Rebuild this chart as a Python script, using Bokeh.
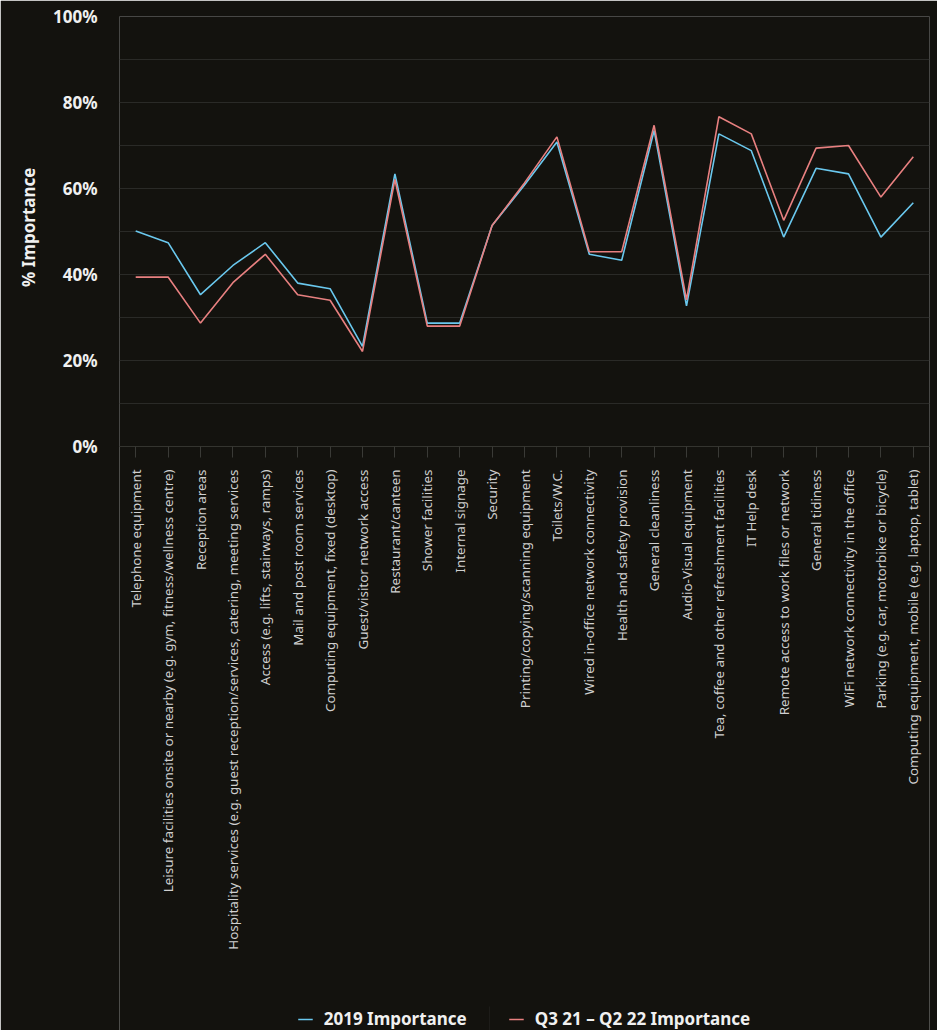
import math

from bokeh.plotting import figure
from bokeh.models import (FactorRange, Range1d, FixedTicker, PrintfTickFormatter,
                          Legend, LegendItem, BoxAnnotation, Title)
from bokeh.embed import file_html
from bokeh.resources import INLINE

# Workplace services and their rated importance (% of respondents)
categories = [
    "Telephone equipment",
    "Leisure facilities onsite or nearby (e.g. gym, fitness/wellness centre)",
    "Reception areas",
    "Hospitality services (e.g. guest reception/services, catering, meeting services",
    "Access (e.g. lifts, stairways, ramps)",
    "Mail and post room services",
    "Computing equipment, fixed (desktop)",
    "Guest/visitor network access",
    "Restaurant/canteen",
    "Shower facilities",
    "Internal signage",
    "Security",
    "Printing/copying/scanning equipment",
    "Toilets/W.C.",
    "Wired in-office network connectivity",
    "Health and safety provision",
    "General cleanliness",
    "Audio-Visual equipment",
    "Tea, coffee and other refreshment facilities",
    "IT Help desk",
    "Remote access to work files or network",
    "General tidiness",
    "WiFi network connectivity in the office",
    "Parking (e.g. car, motorbike or bicycle)",
    "Computing equipment, mobile (e.g. laptop, tablet)",
]

importance_2019 = [50.1, 47.4, 35.3, 42.1, 47.4, 38.0, 36.7, 23.3, 63.4, 28.7,
                   28.7, 51.4, 60.8, 70.8, 44.7, 43.3, 73.5, 32.7, 72.7, 68.8,
                   48.7, 64.7, 63.4, 48.7, 56.7]

importance_recent = [39.4, 39.4, 28.7, 38.1, 44.7, 35.3, 34.0, 22.1, 62.1, 28.0,
                     28.0, 51.4, 61.3, 72.0, 45.3, 45.3, 74.7, 34.1, 76.7, 72.7,
                     52.6, 69.4, 70.0, 58.0, 67.4]

series_labels = ["2019 Importance", "Q3 21 \u2013 Q2 22 Importance"]
y_title = "% Importance"
y_label_ticks = [0, 20, 40, 60, 80, 100]
y_grid_ticks = [0, 10, 20, 30, 40, 50, 60, 70, 80, 90, 100]

BG = "#13120e"
GRID = "#2a2a27"
BLUE = "#6ac8ee"
RED = "#e88080"
FONT = "Noto Sans"

# The frame runs to the bottom of the page; the 0-100 % band occupies its top
# 430 px and the space underneath holds the category names and the legend.
WIDTH, HEIGHT = 937, 1030
TOP, PLOT_H = 16, 430
y_floor = -100.0 * (HEIGHT - TOP - PLOT_H) / PLOT_H

p = figure(
    x_range=FactorRange(*categories), y_range=Range1d(y_floor, 100),
    width=WIDTH, height=HEIGHT,
    output_backend="svg", toolbar_location=None,
    min_border_left=119, min_border_right=8, min_border_top=TOP, min_border_bottom=0,
    background_fill_color=BG, border_fill_color=BG,
    outline_line_color=None,
)

blue = p.line(x=categories, y=importance_2019, line_color=BLUE, line_width=1.6)
red = p.line(x=categories, y=importance_recent, line_color=RED, line_width=1.6)

# frame around the 0-100 % band
p.add_layout(BoxAnnotation(bottom=0, top=100, fill_color=None,
                           line_color=GRID, line_width=1, level="underlay"))

# grid
p.xgrid.visible = False
p.ygrid.ticker = FixedTicker(ticks=y_grid_ticks)
p.ygrid.grid_line_color = GRID
p.ygrid.grid_line_width = 1

# y axis
p.yaxis.bounds = (0, 100)
p.yaxis.ticker = FixedTicker(ticks=y_label_ticks)
p.yaxis.formatter = PrintfTickFormatter(format="%d%%")
p.yaxis.major_label_text_font = FONT
p.yaxis.major_label_text_font_style = "bold"
p.yaxis.major_label_text_font_size = "17px"
p.yaxis.major_label_text_color = "#f0f0f0"
p.yaxis.major_label_standoff = 22
p.yaxis.major_tick_line_color = None
p.yaxis.minor_tick_line_color = None
p.yaxis.major_tick_out = 0
p.yaxis.major_tick_in = 0
p.yaxis.axis_line_color = None

# y title, centred on the 0-100 % band rather than the whole frame
p.add_layout(Title(text=y_title, align="right", offset=151, standoff=20,
                   text_font=FONT, text_font_style="bold", text_font_size="17px",
                   text_color="#f0f0f0"), "left")

# x axis pinned at 0 %, category names read bottom-to-top
p.xaxis.fixed_location = 0
p.xaxis.major_label_orientation = math.pi / 2
p.xaxis.major_label_text_font = FONT
p.xaxis.major_label_text_font_size = "13.4px"
p.xaxis.major_label_text_color = "#d0d0d0"
p.xaxis.major_label_standoff = 12
p.xaxis.axis_line_color = "#34342f"
p.xaxis.major_tick_line_color = "#3a3a36"
p.xaxis.major_tick_out = 11
p.xaxis.major_tick_in = 0

legend = Legend(
    items=[LegendItem(label=series_labels[0], renderers=[blue]),
           LegendItem(label=series_labels[1], renderers=[red])],
    location="bottom_center", orientation="horizontal",
    glyph_width=15, glyph_height=20, label_standoff=11, spacing=42,
    padding=0, margin=0, border_line_color=None, background_fill_alpha=0,
    label_text_font=FONT, label_text_font_style="bold", label_text_font_size="17px",
    label_text_color="#f0f0f0",
)
p.add_layout(legend)

# thin divider between the two legend entries (screen px from frame bottom-left)
p.add_layout(BoxAnnotation(left=369.5, right=370.5, bottom=0, top=24,
                           left_units="screen", right_units="screen",
                           bottom_units="screen", top_units="screen",
                           fill_color="#2e2e2b", line_color=None))

open("out.html", "w").write(file_html(p, INLINE))
